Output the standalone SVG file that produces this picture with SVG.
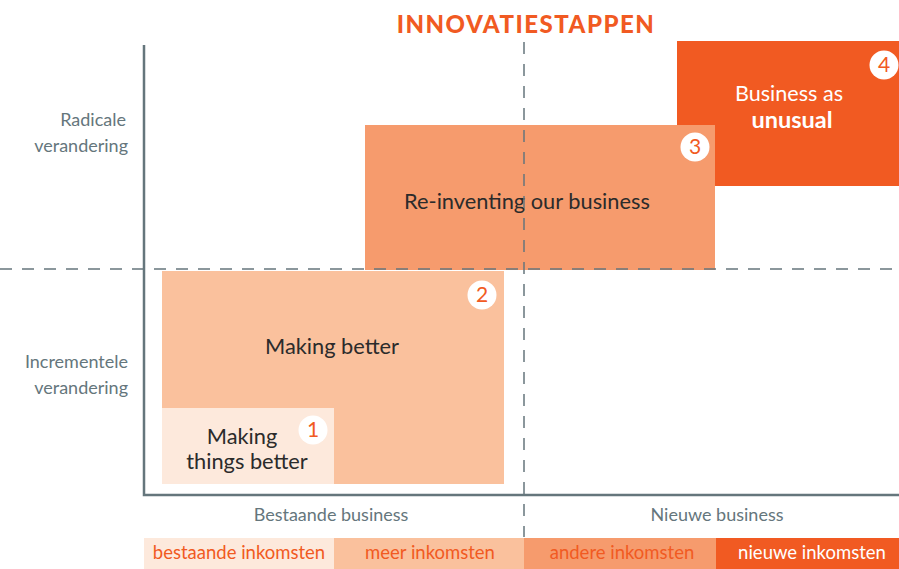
<svg xmlns="http://www.w3.org/2000/svg" width="899" height="569" viewBox="0 0 899 569">
<style>
  text { font-family: Lato, "Open Sans", "Liberation Sans", sans-serif; }
  .axis { fill: #65767c; font-size: 18px; }
  .box { fill: #2b2b2b; font-size: 21.8px; text-anchor: middle; }
  .num { fill: #f15a22; font-size: 21px; text-anchor: middle; }
  .bar { font-size: 18.5px; text-anchor: middle; fill: #f15a22; }
  .dash { stroke: #65767c; stroke-width: 1.5; stroke-dasharray: 12 10; fill: none; }
</style>
<rect width="899" height="569" fill="#ffffff"/>
<text x="526" y="33" text-anchor="middle" font-size="24" font-weight="900" letter-spacing="1.5" fill="#f15a22">INNOVATIESTAPPEN</text>

<g id="box4">
  <rect x="677" y="41" width="222" height="145" fill="#f15a22"/>
  <text x="789" y="101" text-anchor="middle" font-size="21.6" fill="#ffffff">Business as</text>
  <text x="792" y="128" text-anchor="middle" font-size="23.5" font-weight="bold" fill="#ffffff">unusual</text>
  <circle cx="884" cy="65" r="14.5" fill="#ffffff"/>
  <text class="num" x="884" y="72">4</text>
</g>
<g id="box3">
  <rect x="365" y="125" width="350" height="145" fill="#f69b6d"/>
  <text class="box" x="527" y="209">Re-inventing our business</text>
  <circle cx="695" cy="147" r="14.5" fill="#ffffff"/>
  <text class="num" x="695" y="154">3</text>
</g>
<g id="box2">
  <rect x="162" y="271" width="342" height="213" fill="#fac19d"/>
  <text class="box" x="332" y="354">Making better</text>
  <circle cx="482" cy="295" r="14.5" fill="#ffffff"/>
  <text class="num" x="482" y="302">2</text>
</g>
<g id="box1">
  <rect x="162" y="408" width="172" height="76" fill="#fde9dc"/>
  <text class="box" x="242" y="444">Making</text>
  <text class="box" x="247" y="469">things better</text>
  <circle cx="313" cy="430" r="14.5" fill="#ffffff"/>
  <text class="num" x="313" y="437">1</text>
</g>

<g id="connectors">
  <line class="dash" x1="0" y1="269" x2="899" y2="269"/>
  <line class="dash" x1="524" y1="42" x2="524" y2="537"/>
  <polyline points="144,45 144,495 899,495" fill="none" stroke="#65767c" stroke-width="2.5"/>
</g>

<g id="axis-labels">
  <text class="axis" x="126" y="126" text-anchor="end">Radicale</text>
  <text class="axis" x="128" y="152" text-anchor="end">verandering</text>
  <text class="axis" x="128" y="368" text-anchor="end">Incrementele</text>
  <text class="axis" x="128" y="394" text-anchor="end">verandering</text>
  <text class="axis" x="331" y="521" text-anchor="middle">Bestaande business</text>
  <text class="axis" x="717" y="521" text-anchor="middle">Nieuwe business</text>
</g>

<g id="bars">
  <rect x="144" y="538" width="190" height="31" fill="#fde9dc"/>
  <rect x="334" y="538" width="190" height="31" fill="#fac19d"/>
  <rect x="524" y="538" width="192" height="31" fill="#f69b6d"/>
  <rect x="716" y="538" width="183" height="31" fill="#f15a22"/>
  <text class="bar" x="239" y="559">bestaande inkomsten</text>
  <text class="bar" x="430" y="559">meer inkomsten</text>
  <text class="bar" x="622" y="559">andere inkomsten</text>
  <text class="bar" x="812" y="559" style="fill:#ffffff">nieuwe inkomsten</text>
</g>
</svg>
